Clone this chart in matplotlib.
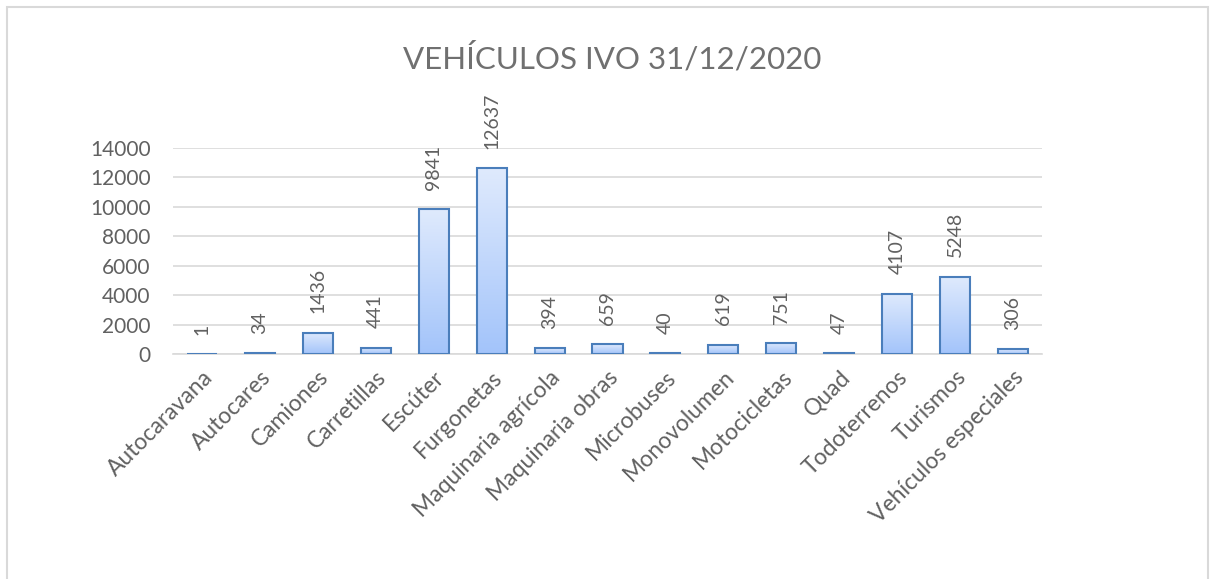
import matplotlib
matplotlib.use('Agg')
import matplotlib.pyplot as plt
from matplotlib.patches import Rectangle
import numpy as np

categorias = ['Autocaravana', 'Autocares', 'Camiones', 'Carretillas', 'Escúter',
              'Furgonetas', 'Maquinaria agrícola', 'Maquinaria obras', 'Microbuses',
              'Monovolumen', 'Motocicletas', 'Quad', 'Todoterrenos', 'Turismos',
              'Vehículos especiales']
valores = [1, 34, 1436, 441, 9841, 12637, 394, 659, 40, 619, 751, 47, 4107, 5248, 306]
yticks = [0, 2000, 4000, 6000, 8000, 10000, 12000, 14000]

plt.rcParams['font.family'] = ['Lato', 'DejaVu Sans']
gris = '#616161'

W, H = 1216, 579
fig = plt.figure(figsize=(W / 100, H / 100), dpi=100)
ax = fig.add_axes([173 / W, (H - 354) / H, (1042 - 173) / W, (354 - 148) / H])

# borde del grafico
fig.patches.append(Rectangle((7 / W, -0.05), (1208 - 7) / W, (H - 7) / H + 0.05,
                             transform=fig.transFigure, fill=False,
                             edgecolor='#d9d9d9', linewidth=1.5))

x = np.arange(len(categorias))
ancho = 0.52
grad = np.linspace(0, 1, 100).reshape(-1, 1)
cmap = matplotlib.colors.LinearSegmentedColormap.from_list('g', ['#a3c4fa', '#dfeafd'])
barras = ax.bar(x, valores, width=ancho, color='none', edgecolor='#4a7ebb',
                linewidth=1.5, zorder=3)
for b, v in zip(barras, valores):
    ax.imshow(grad, cmap=cmap, aspect='auto', origin='lower', zorder=2,
              extent=[b.get_x(), b.get_x() + ancho, 0, v])
    ax.annotate(str(v), (b.get_x() + ancho / 2, v), xytext=(0, 14),
                textcoords='offset points', rotation=90, ha='center', va='bottom',
                fontsize=14, color=gris)

ax.set_xlim(-0.5, len(categorias) - 0.5)
ax.set_ylim(0, 14000)
ax.set_yticks(yticks)
ax.set_xticks(x)
ax.set_xticklabels(categorias, rotation=45, ha='right', rotation_mode='anchor')
ax.tick_params(axis='both', length=0, labelcolor=gris)
ax.tick_params(axis='y', pad=16, labelsize=15)
ax.tick_params(axis='x', pad=9, labelsize=16.5)
ax.grid(axis='y', color='#d9d9d9', linewidth=1.2, zorder=0)
for s in ['top', 'right', 'left']:
    ax.spines[s].set_visible(False)
ax.spines['bottom'].set_color('#d9d9d9')
ax.spines['bottom'].set_linewidth(1.2)

fig.text(612 / W, 1 - 58 / H, 'VEHÍCULOS IVO 31/12/2020', ha='center', va='center',
         fontsize=22.5, color='#707070')

fig.savefig('out.png', dpi=100)
